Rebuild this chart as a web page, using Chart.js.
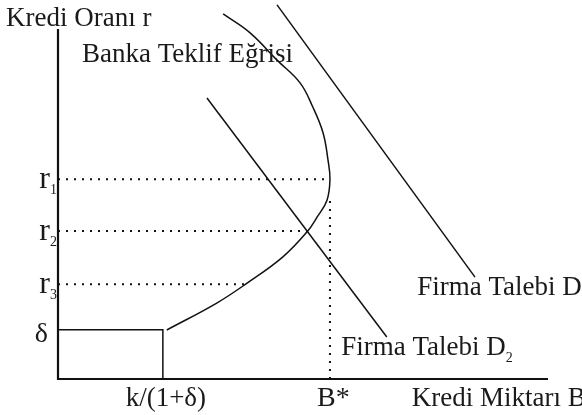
<!DOCTYPE html>
<html>
<head>
<meta charset="utf-8">
<script src="https://cdn.jsdelivr.net/npm/chart.js@4/dist/chart.umd.min.js"></script>
<style>
    html, body { margin: 0; padding: 0; background: #fff; }
    canvas { display: block; }
</style>
</head>
<body>
<canvas id="chart" width="582" height="415"></canvas>
<script>
// banka teklif egrisi (x = kredi miktari, y = kredi orani)
const offerX = [22.2, 32.4, 38.6, 45.9, 50.8, 52.9, 54.9, 55.5, 55.1, 54.1, 52.0, 49.4, 44.7, 39.2, 33.7];
const offerY = [14.0, 21.7, 27.4, 34.9, 42.0, 46.3, 51.1, 57.1, 62.6, 70.3, 77.7, 84.6, 91.1, 98.9, 104.3];

// firma talepleri (straight lines)
const demand1X = [44.7, 85.1];
const demand1Y = [106.9, 29.1];
const demand2X = [30.4, 67.1];
const demand2Y = [80.3, 12.0];

// r1, r2, r3 and where their dotted guides meet the curve
const rateLevels = [57.1, 42.3, 27.1];
const rateEnds = [55.3, 50.8, 38.2];
const rateSubs = ['1', '2', '3'];

const delta = 14.1;      // δ
const kDelta = 21.4;     // k/(1+δ)
const bStar = 55.5;      // B*
const bStarTop = 52.0;

const INK = '#111';
const SERIF = '"Liberation Serif", "Times New Roman", serif';

function pts(xs, ys) {
    return xs.map(function(x, i) { return { x: x, y: ys[i] }; });
}

function lineSet(data, opts) {
    return Object.assign({
        data: data,
        showLine: true,
        borderColor: INK,
        borderWidth: 1.5,
        pointRadius: 0,
        tension: 0,
        clip: false
    }, opts || {});
}

let datasets = [];

// axes
datasets.push(lineSet([{ x: 0, y: 100 }, { x: 0, y: 0 }, { x: 100, y: 0 }], { borderWidth: 2.2 }));

// dotted guides
rateLevels.forEach(function(r, i) {
    datasets.push(lineSet([{ x: 0, y: r }, { x: rateEnds[i], y: r }], { borderWidth: 2, borderDash: [2, 6] }));
});
datasets.push(lineSet([{ x: bStar, y: 0 }, { x: bStar, y: bStarTop }], { borderWidth: 2, borderDash: [2, 6] }));

// delta box
datasets.push(lineSet([{ x: 0, y: delta }, { x: kDelta, y: delta }, { x: kDelta, y: 0 }]));

// bank offer curve
datasets.push(lineSet(pts(offerX, offerY), { tension: 0.4 }));

// demand lines
datasets.push(lineSet(pts(demand1X, demand1Y)));
datasets.push(lineSet(pts(demand2X, demand2Y)));

// free text labels, anchored in data units
const notes = [
    { text: 'Kredi Oranı r', x: -10.6, y: 100.9 },
    { text: 'Banka Teklif Eğrisi', x: 4.9, y: 90.6 },
    { text: 'Firma Talebi D', sub: '1', x: 73.3, y: 24.0 },
    { text: 'Firma Talebi D', sub: '2', x: 57.8, y: 6.9 },
    { text: 'Kredi Miktarı B', x: 72.2, y: -7.8 }
];

const textPlugin = {
    id: 'texts',
    afterDatasetsDraw: function(chart) {
        const ctx = chart.ctx;
        const xs = chart.scales.x;
        const ys = chart.scales.y;
        ctx.save();
        ctx.fillStyle = '#1a1a1a';
        ctx.textBaseline = 'alphabetic';

        function sub(text, x, y) {
            ctx.font = '14px ' + SERIF;
            ctx.textAlign = 'left';
            ctx.fillText(text, x, y);
        }

        // y tick labels
        const axisX = xs.getPixelForValue(0);
        rateLevels.forEach(function(r, i) {
            const py = ys.getPixelForValue(r);
            ctx.font = '32px ' + SERIF;
            ctx.textAlign = 'right';
            ctx.fillText('r', axisX - 8, py + 9);
            sub(rateSubs[i], axisX - 8, py + 15);
        });
        ctx.font = '28px ' + SERIF;
        ctx.textAlign = 'right';
        ctx.fillText('δ', axisX - 10, ys.getPixelForValue(delta) + 12);

        // x tick labels
        const base = ys.getPixelForValue(0) + 27;
        ctx.font = '27px ' + SERIF;
        ctx.textAlign = 'center';
        ctx.fillText('k/(1+δ)', xs.getPixelForValue(kDelta) + 3, base);
        ctx.font = '28px ' + SERIF;
        ctx.textAlign = 'left';
        ctx.fillText('B*', xs.getPixelForValue(bStar) - 13, base);

        notes.forEach(function(n) {
            const px = xs.getPixelForValue(n.x);
            const py = ys.getPixelForValue(n.y);
            ctx.font = '27px ' + SERIF;
            ctx.textAlign = 'left';
            ctx.fillText(n.text, px, py);
            if (n.sub) {
                const w = ctx.measureText(n.text).width;
                sub(n.sub, px + w, py + 7);
            }
        });
        ctx.restore();
    }
};

new Chart(document.getElementById('chart').getContext('2d'), {
    type: 'scatter',
    data: { datasets: datasets },
    options: {
        responsive: false,
        animation: false,
        layout: { padding: { left: 58, top: 29, right: 34, bottom: 36 } },
        plugins: { legend: { display: false }, tooltip: { enabled: false } },
        scales: {
            x: { type: 'linear', min: 0, max: 100, display: false },
            y: { type: 'linear', min: 0, max: 100, display: false }
        }
    },
    plugins: [textPlugin]
});
</script>
</body>
</html>
